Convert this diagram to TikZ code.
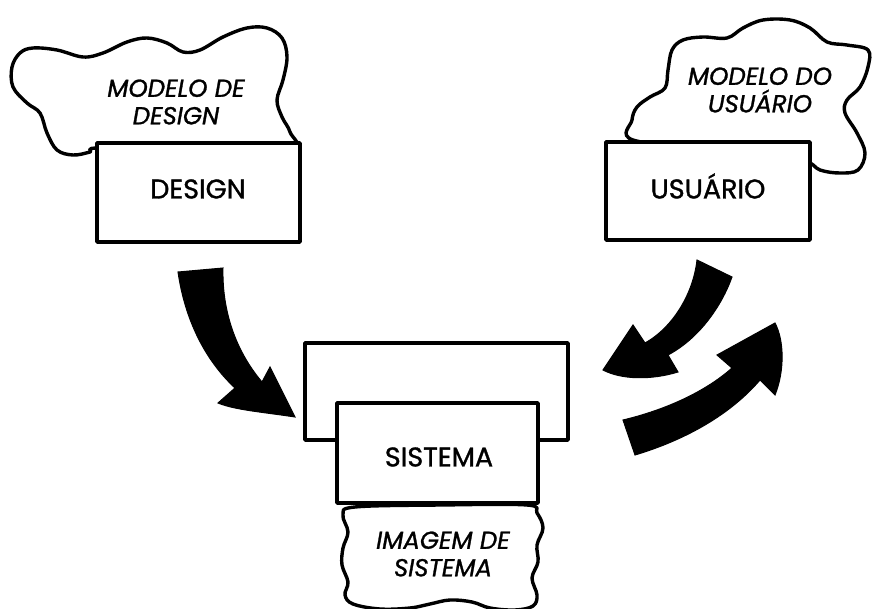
\documentclass[tikz,border=0pt]{standalone}
\usepackage{fontspec}
\setmainfont{Poppins}[FakeBold=1.2]
\begin{document}
\begin{tikzpicture}[x=1pt,y=-1pt,
  outline/.style={line width=3.4pt, line join=round},
  box/.style={outline, draw=black, fill=white, rectangle, inner sep=0pt},
  cloudline/.style={outline, draw=black, fill=white},
  boxtext/.style={font=\fontsize{27}{30}\selectfont, inner sep=0pt},
  cloudtext/.style={font=\fontsize{24.5}{27.5}\selectfont\itshape, align=center, inner sep=0pt},
  bigarrow/.style={fill=black, draw=black, line width=1pt, line join=miter}
]
\useasboundingbox (0,0) rectangle (873,609);
\clip (0,0) rectangle (873,609);

% ---- clouds ----
\draw[cloudline] plot[smooth cycle, tension=0.6] coordinates {
  (12,67) (20,53) (33,48) (57,50) (83,57) (103,53) (127,42) (147,38)
  (167,43) (183,52) (200,50) (223,37) (247,28) (267,28) (282,38) (287,57)
  (283,80) (277,100) (282,117) (290,132) (291,150) (200,152) (100,148)
  (90,152) (73,155) (57,150) (47,133) (40,113) (27,103) (13,87)};

\draw[cloudline] plot[smooth cycle, tension=0.6] coordinates {
  (633,140) (632,120) (637,107) (650,97) (665,88) (668,70) (672,50)
  (683,40) (703,37) (727,38) (743,28) (763,20) (790,20) (810,28)
  (827,42) (847,45) (868,50) (868,67) (860,87) (847,100) (845,113)
  (857,133) (865,153) (858,170) (840,173) (820,170) (800,160) (720,150)};

\draw[cloudline] plot[smooth cycle, tension=0.6] coordinates {
  (355,507) (343,515) (348,532) (343,548) (342,565) (348,582) (345,595)
  (353,604) (380,609) (410,608) (430,604) (450,600) (472,602) (490,608)
  (515,610) (533,606) (537,595) (532,578) (538,562) (537,545) (543,528)
  (537,513) (527,505) (440,505)};

% ---- boxes ----
\node[box, minimum width=203pt, minimum height=99pt] (design) at (198.5,192.5) {};
\node[box, minimum width=204pt, minimum height=98pt] (usuario) at (708,191) {};
\node[box, minimum width=263pt, minimum height=97pt] (sistemaback) at (436.5,391.5) {};
\node[box, minimum width=201pt, minimum height=100pt] (sistema) at (437.5,453) {};

% ---- labels ----
\node[boxtext] (designlabel) at (198,189) {DESIGN};
\node[boxtext] (usuariolabel) at (708,186) {USUÁRIO};
\node[boxtext] (sistemalabel) at (439,457) {SISTEMA};

\node[cloudtext] (modelodesign) at (176,102) {MODELO DE\\DESIGN};
\node[cloudtext] (modelousuario) at (760,90) {MODELO DO\\USUÁRIO};
\node[cloudtext] (imagem) at (443,554) {IMAGEM DE\\SISTEMA};

% ---- block arrows ----
% design -> sistema
\draw[bigarrow] (178,272) -- (223,268)
  .. controls (222,310) and (235,350) .. (262,382)
  -- (270,367) -- (295,417)
  .. controls (262,412) and (235,410) .. (218,403)
  -- (235,388)
  .. controls (205,360) and (185,320) .. (178,272) -- cycle;

% usuario -> sistema
\draw[bigarrow] (697,260) -- (732,277)
  .. controls (722,305) and (700,338) .. (668,355)
  -- (678,372)
  .. controls (652,380) and (622,380) .. (603,370)
  -- (633,325) -- (645,343)
  .. controls (672,328) and (693,295) .. (697,260) -- cycle;

% sistema -> usuario
\draw[bigarrow] (623,420) -- (635,455)
  .. controls (685,440) and (730,415) .. (760,380)
  -- (775,395)
  .. controls (785,370) and (784,340) .. (775,323)
  -- (717,355) -- (732,368)
  .. controls (705,392) and (665,410) .. (623,420) -- cycle;
\end{tikzpicture}
\end{document}
